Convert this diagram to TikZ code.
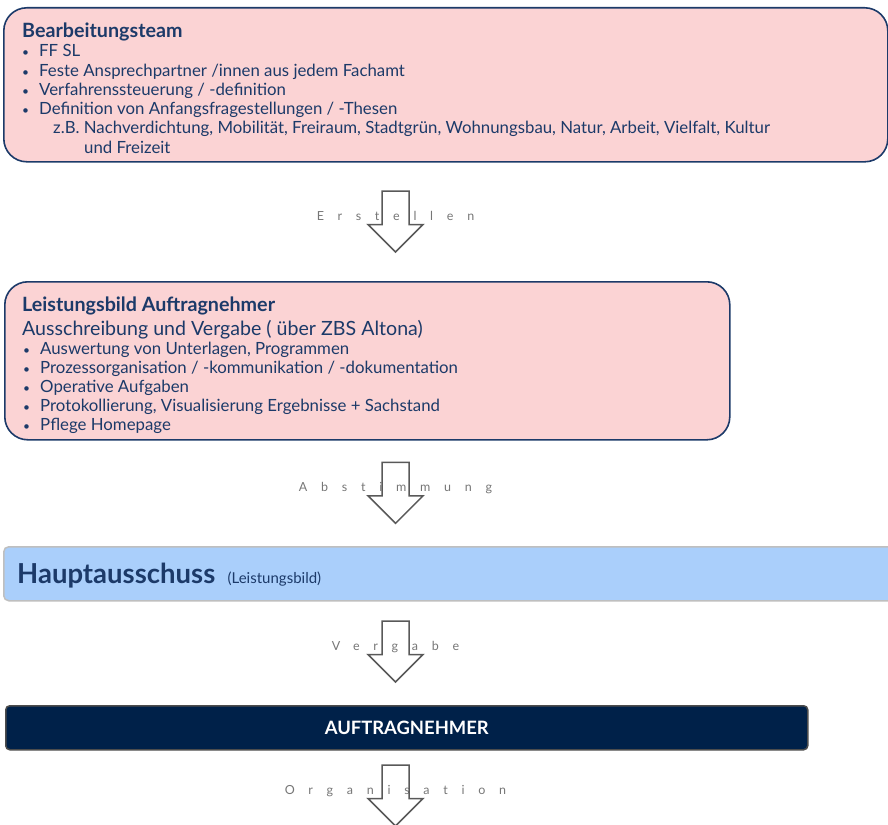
\documentclass[tikz,border=0pt]{standalone}
\usepackage{fontspec}
\setmainfont{Lato}
\usetikzlibrary{positioning}
\definecolor{navy}{RGB}{28,58,105}
\definecolor{rosa}{RGB}{251,211,212}
\definecolor{hellblau}{RGB}{170,207,251}
\definecolor{dunkelblau}{RGB}{0,33,73}
\definecolor{pfeilgrau}{RGB}{89,89,89}
\definecolor{textgrau}{RGB}{118,118,118}

\tikzset{
  rosabox/.style={draw=navy, fill=rosa, line width=1.6pt, rounded corners=23pt,
    anchor=north west, inner sep=0pt},
  titel/.style={anchor=base west, inner sep=0pt, text=navy,
    font=\fontsize{19.7}{23}\selectfont\bfseries},
  punkt/.style={anchor=base west, inner sep=0pt, text=navy,
    font=\fontsize{16.8}{19}\selectfont},
  blockpfeil/.style={draw=pfeilgrau, line width=1.5pt, line join=miter},
  pfeiltext/.style={anchor=base, inner sep=0pt, text=textgrau,
    font=\fontsize{12.5}{14}\selectfont\addfontfeature{LetterSpace=110,Ligatures=NoCommon}},
}

\newcommand{\bul}{\llap{{\fontsize{12}{12}\selectfont\textbullet}\hspace{10pt}}}

\begin{document}
\begin{tikzpicture}[x=1pt,y=-1pt]
    \useasboundingbox (0,0) rectangle (888,824);

    % Bearbeitungsteam
    \node[rosabox, minimum width=884pt, minimum height=154pt] (team) at (3,7) {};
    \node[titel] (teamtitel) at (22,37.7) {Bearbeitungsteam};
    \foreach \zeile [count=\i] in {FF SL, Feste Ansprechpartner /innen aus jedem Fachamt,
        Verfahrenssteuerung / -definition, Definition von Anfangsfragestellungen / -Thesen}
        \node[punkt] (team\i) at (39,{37.7+19.2*\i}) {\bul\zeile};
    \node[punkt] (teamzb) at (53,134) {z.B. Nachverdichtung, Mobilität, Freiraum, Stadtgrün, Wohnungsbau, Natur, Arbeit, Vielfalt, Kultur};
    \node[punkt] (teamzb2) at (84,153) {und Freizeit};

    % Leistungsbild
    \node[rosabox, minimum width=725pt, minimum height=158pt] (leist) at (4,281) {};
    \node[titel] (leisttitel) at (22,311.7) {Leistungsbild Auftragnehmer};
    \node[punkt, font=\fontsize{19.6}{22}\selectfont] (leistsub) at (22,335.7) {Ausschreibung und Vergabe ( über ZBS Altona)};
    \foreach \zeile [count=\i] in {{Auswertung von Unterlagen, Programmen},
        Prozessorganisation / -kommunikation / -dokumentation, Operative Aufgaben,
        {Protokollierung, Visualisierung Ergebnisse + Sachstand}, Pflege Homepage}
        \node[punkt] (leist\i) at (40,{335.2+19.1*\i}) {\bul\zeile};

    % Hauptausschuss
    \node[draw=black!25, fill=hellblau, line width=1.5pt, rounded corners=5pt,
        anchor=north west, minimum width=895pt, minimum height=54pt] (haupt) at (3,546) {};
    \node[anchor=base west, inner sep=0pt, text=navy, font=\fontsize{27.5}{30}\selectfont\bfseries]
        (haupttitel) at (17,583.3) {Hauptausschuss};
    \node[anchor=base west, inner sep=0pt, text=navy, font=\fontsize{15}{17}\selectfont]
        (hauptzusatz) at ([xshift=12pt]haupttitel.base east) {(Leistungsbild)};

    % Auftragnehmer
    \node[draw=black!70, fill=dunkelblau, line width=1.5pt, rounded corners=4pt,
        anchor=north west, minimum width=802pt, minimum height=44pt, text=white,
        font=\fontsize{18.4}{21}\selectfont\bfseries] (an) at (5,705) {AUFTRAGNEHMER};

    % Pfeile
    \foreach \y/\wort [count=\i] in {191/Erstellen, 462.3/Abstimmung, 621/Vergabe, 765/Organisation} {
        \node[pfeiltext] (pfeil\i) at (395.5,{\y+29.5}) {\wort};
        \draw[blockpfeil] (382,\y) -- (409,\y) -- (409,{\y+33.5}) -- (423,{\y+33.5})
            -- (395.5,{\y+61}) -- (368,{\y+33.5}) -- (382,{\y+33.5}) -- cycle;
    }
\end{tikzpicture}
\end{document}
